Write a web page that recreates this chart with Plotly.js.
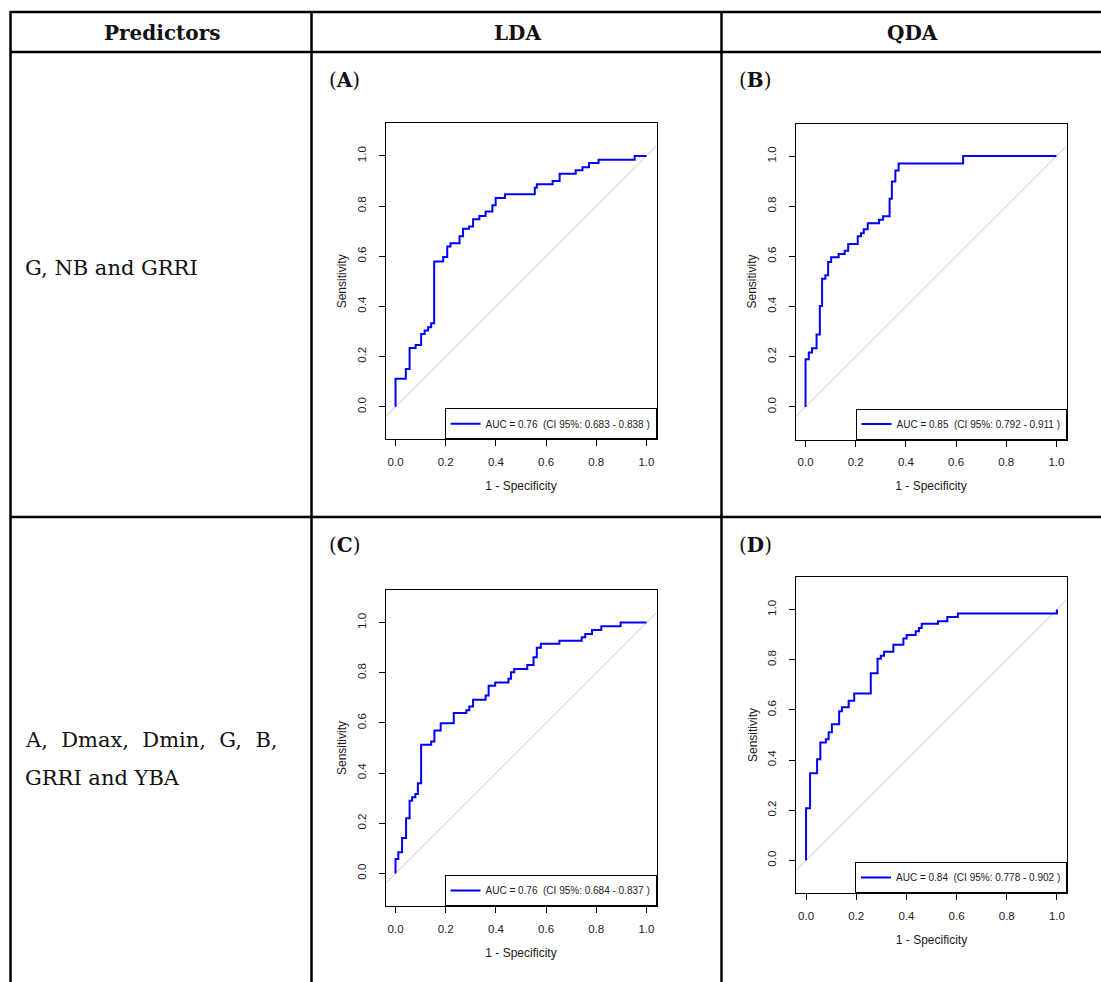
<!DOCTYPE html>
<html>
<head>
<meta charset="utf-8">
<script src="https://cdn.plot.ly/plotly-3.0.1.min.js"></script>
<style>
html,body{margin:0;padding:0;background:#fff;}
#chart{width:1101px;height:982px;}
</style>
</head>
<body>
<div id="chart"></div>
<script>
// ---------------- DATA ----------------
const columnHeaders = ["Predictors", "LDA", "QDA"];
const row1Predictors = ["G, NB and GRRI"];
const row2Predictors = ["A,\u00a0 Dmax,\u00a0 Dmin,\u00a0 G,\u00a0 B,", "GRRI and YBA"];
const panelLabels = ["A", "B", "C", "D"];
const aucValues = [0.76, 0.85, 0.76, 0.84];
const ciLow = [0.683, 0.792, 0.684, 0.778];
const ciHigh = [0.838, 0.911, 0.837, 0.902];
const tickValues = [0, 0.2, 0.4, 0.6, 0.8, 1.0];
const tickLabels = ["0.0", "0.2", "0.4", "0.6", "0.8", "1.0"];
const xAxisTitle = "1 - Specificity";
const yAxisTitle = "Sensitivity";

// ROC curves (1 - specificity, sensitivity)
const fprA = [0, 0.041, 0.056, 0.080, 0.102, 0.116, 0.130, 0.142, 0.154, 0.190, 0.206, 0.219, 0.255, 0.269, 0.293, 0.309, 0.334, 0.359, 0.386, 0.399, 0.436, 0.555, 0.563, 0.626, 0.654, 0.718, 0.745, 0.771, 0.809, 0.953, 1.0];
const tprA = [0, 0.111, 0.150, 0.234, 0.246, 0.290, 0.304, 0.317, 0.333, 0.579, 0.597, 0.639, 0.652, 0.680, 0.710, 0.719, 0.747, 0.760, 0.778, 0.803, 0.832, 0.847, 0.873, 0.887, 0.900, 0.929, 0.943, 0.955, 0.972, 0.985, 1.0];

const fprB = [0, 0.013, 0.026, 0.044, 0.057, 0.066, 0.079, 0.090, 0.102, 0.132, 0.156, 0.170, 0.208, 0.221, 0.232, 0.248, 0.293, 0.309, 0.335, 0.344, 0.358, 0.371, 0.628, 1.0];
const tprB = [0, 0.190, 0.217, 0.234, 0.289, 0.402, 0.511, 0.525, 0.578, 0.597, 0.610, 0.623, 0.650, 0.680, 0.692, 0.708, 0.732, 0.746, 0.760, 0.830, 0.899, 0.943, 0.971, 1.0];

const fprC = [0, 0.011, 0.026, 0.042, 0.056, 0.066, 0.079, 0.089, 0.102, 0.142, 0.155, 0.180, 0.232, 0.282, 0.294, 0.309, 0.359, 0.371, 0.397, 0.450, 0.460, 0.473, 0.525, 0.550, 0.563, 0.579, 0.653, 0.742, 0.756, 0.783, 0.820, 0.897, 1.0];
const tprC = [0, 0.057, 0.084, 0.141, 0.220, 0.290, 0.304, 0.317, 0.359, 0.513, 0.526, 0.570, 0.599, 0.640, 0.651, 0.665, 0.692, 0.709, 0.748, 0.761, 0.776, 0.802, 0.815, 0.831, 0.862, 0.900, 0.916, 0.928, 0.942, 0.955, 0.971, 0.985, 1.0];

const fprD = [0, 0.016, 0.044, 0.057, 0.079, 0.090, 0.103, 0.132, 0.143, 0.170, 0.192, 0.258, 0.285, 0.298, 0.311, 0.348, 0.388, 0.401, 0.437, 0.450, 0.461, 0.526, 0.563, 0.605, 1.0, 1.0];
const tprD = [0, 0.208, 0.347, 0.403, 0.470, 0.483, 0.511, 0.543, 0.595, 0.611, 0.637, 0.665, 0.746, 0.804, 0.816, 0.832, 0.860, 0.885, 0.899, 0.914, 0.927, 0.944, 0.954, 0.971, 0.984, 1.0];

// ---------------- LAYOUT HELPERS ----------------
const W = 1101, H = 982;
const px = x => x / W;
const py = y => 1 - y / H;
const xRange = [-0.04, 1.04];
const yRange = [-0.13, 1.13];

const panelBoxes = [
  {l: 385.5, r: 656.5, t: 123.3, b: 439.3},
  {l: 795.5, r: 1066.5, t: 123.5, b: 439.5},
  {l: 385.5, r: 656.5, t: 590, b: 906},
  {l: 796, r: 1067, t: 577, b: 893}
];
const panelLabelPos = [[327, 80], [737, 80], [327, 545], [737, 545]];
const fprs = [fprA, fprB, fprC, fprD];
const tprs = [tprA, tprB, tprC, tprD];

const serif = "DejaVu Serif, Liberation Serif, serif";
const sans = "Liberation Sans, Arial, sans-serif";

const traces = [];
const layout = {
  width: W, height: H,
  margin: {l: 0, r: 0, t: 0, b: 0},
  paper_bgcolor: "#ffffff",
  plot_bgcolor: "#ffffff",
  showlegend: true,
  shapes: [],
  annotations: []
};

panelBoxes.forEach((box, i) => {
  const sfx = i === 0 ? "" : String(i + 1);
  const xa = "x" + sfx, ya = "y" + sfx;
  const legName = "legend" + sfx;
  traces.push({
    x: fprs[i], y: tprs[i],
    xaxis: xa, yaxis: ya,
    type: "scatter", mode: "lines",
    line: {color: "#0000ff", width: 2, shape: "vh"},
    name: "AUC = " + aucValues[i].toFixed(2) + "\u00a0 (CI 95%: " + ciLow[i].toFixed(3) + " - " + ciHigh[i].toFixed(3) + " )",
    legend: legName,
    showlegend: true,
    hoverinfo: "skip"
  });
  const axisCommon = {
    showline: true, mirror: true, linecolor: "#000", linewidth: 1,
    ticks: "outside", ticklen: 6, tickwidth: 1, tickcolor: "#000",
    tickvals: tickValues, ticktext: tickLabels,
    tickfont: {family: sans, size: 11.5, color: "#1a1a1a"},
    showgrid: false, zeroline: false, fixedrange: true
  };
  layout["xaxis" + sfx] = Object.assign({}, axisCommon, {
    domain: [px(box.l), px(box.r)], range: xRange, anchor: ya,
    ticklabelstandoff: 6,
    title: {text: xAxisTitle, standoff: 14, font: {family: sans, size: 12, color: "#1a1a1a"}}
  });
  layout["yaxis" + sfx] = Object.assign({}, axisCommon, {
    domain: [py(box.b), py(box.t)], range: yRange, anchor: xa,
    tickangle: -90, ticklabelstandoff: 8,
    title: {text: yAxisTitle, standoff: 6, font: {family: sans, size: 12, color: "#1a1a1a"}}
  });
  layout[legName] = {
    x: px(box.r), y: py(box.b), xanchor: "right", yanchor: "bottom",
    xref: "paper", yref: "paper",
    bgcolor: "#ffffff", bordercolor: "#000", borderwidth: 1,
    font: {family: sans, size: 10, color: "#1a1a1a"},
    itemwidth: 30
  };
  // chance diagonal
  layout.shapes.push({
    type: "line", xref: xa, yref: ya, layer: "below",
    x0: xRange[0], y0: xRange[0], x1: xRange[1], y1: xRange[1],
    line: {color: "#c8c8c8", width: 1}
  });
  layout.annotations.push({
    xref: "paper", yref: "paper", x: px(panelLabelPos[i][0]), y: py(panelLabelPos[i][1]),
    xanchor: "left", yanchor: "middle", showarrow: false,
    text: "(<b>" + panelLabels[i] + "</b>)",
    font: {family: serif, size: 20, color: "#111"}
  });
});

// table grid lines
const gridLines = [
  [10, 12, W, 12], [10, 52, W, 52], [10, 517, W, 517],
  [10.5, 11, 10.5, H], [311.5, 11, 311.5, H], [721.5, 11, 721.5, H]
];
gridLines.forEach(g => layout.shapes.push({
  type: "line", xref: "paper", yref: "paper",
  x0: px(g[0]), y0: py(g[1]), x1: px(g[2]), y1: py(g[3]),
  line: {color: "#000", width: 2.5}
}));

// header texts
const headerX = [162, 517, 912];
columnHeaders.forEach((h, i) => layout.annotations.push({
  xref: "paper", yref: "paper", x: px(headerX[i]), y: py(33),
  xanchor: "center", yanchor: "middle", showarrow: false,
  text: "<b>" + h + "</b>", font: {family: serif, size: 20, color: "#111"}
}));

// predictor texts
layout.annotations.push({
  xref: "paper", yref: "paper", x: px(23), y: py(268),
  xanchor: "left", yanchor: "middle", showarrow: false,
  text: row1Predictors[0], font: {family: serif, size: 21, color: "#111"}
});
const row2Y = [740, 778];
row2Predictors.forEach((t, i) => layout.annotations.push({
  xref: "paper", yref: "paper", x: px(23), y: py(row2Y[i]),
  xanchor: "left", yanchor: "middle", showarrow: false,
  text: t, font: {family: serif, size: 21, color: "#111"}
}));

Plotly.newPlot("chart", traces, layout, {staticPlot: true, displayModeBar: false});
</script>
</body>
</html>
